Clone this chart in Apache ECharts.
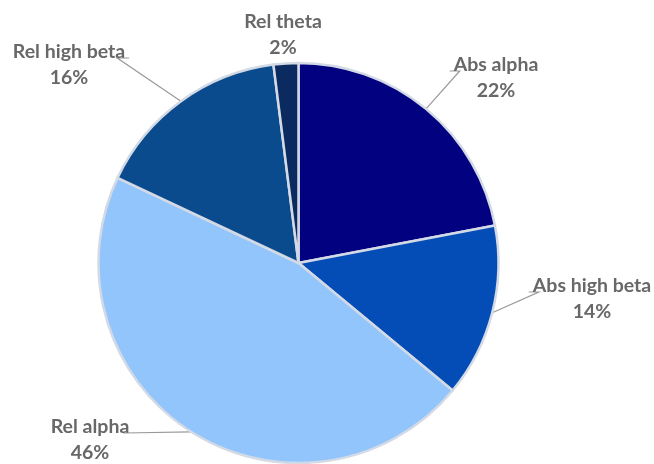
<!DOCTYPE html>
<html>
<head>
<meta charset="utf-8">
<script src="https://cdn.jsdelivr.net/npm/echarts@6/dist/echarts.min.js"></script>
<style>
  html, body { margin: 0; padding: 0; background: #fff; }
  #chart { width: 654px; height: 464px; }
</style>
</head>
<body>
<div id="chart"></div>
<script>
// Share of each band measure (percent), clockwise from 12 o'clock
const categories = ['Abs alpha', 'Abs high beta', 'Rel alpha', 'Rel high beta', 'Rel theta'];
const shares = [22, 14, 46, 16, 2];
const sliceColors = ['#020280', '#044db6', '#92c5fb', '#0a4b8e', '#0b2b60'];

// Where each two-line label block sits (text centre) and which side its leader enters
const labelSpots = [
  { x: 496, y: 78, side: 'left', run: 10 },
  { x: 592, y: 299, side: 'left', run: 10 },
  { x: 90, y: 440, side: 'right', run: 10 },
  { x: 69, y: 65, side: 'right', run: 12 },
  { x: 283, y: 35, side: 'none', run: 0 }
];

const chart = echarts.init(document.getElementById('chart'));

chart.setOption({
  animation: false,
  series: [{
    type: 'pie',
    center: [298.5, 263],
    radius: 200,
    startAngle: 90,
    clockwise: true,
    data: categories.map((name, i) => ({
      name,
      value: shares[i],
      itemStyle: { color: sliceColors[i] },
      labelLine: { show: labelSpots[i].side !== 'none' }
    })),
    itemStyle: { borderColor: '#d3dae6', borderWidth: 2.5 },
    label: {
      formatter: '{b}\n{c}%',
      color: '#686868',
      fontFamily: 'Lato',
      fontWeight: 'bold',
      fontSize: 19.5,
      lineHeight: 26,
      align: 'center',
      overflow: 'none'
    },
    labelLine: { lineStyle: { color: '#9a9a9a', width: 1.2 } },
    labelLayout: function (params) {
      const spot = labelSpots[params.dataIndex];
      const w = params.labelRect.width;
      const out = { x: spot.x, y: spot.y, align: 'center', verticalAlign: 'middle' };
      const start = params.labelLinePoints ? params.labelLinePoints[0] : null;
      if (start && spot.side !== 'none') {
        const lineY = spot.y - 7;
        const dir = spot.side === 'left' ? -1 : 1;
        const endX = spot.x + dir * (w / 2 + 4);
        const bendX = endX - dir * spot.run;
        out.labelLinePoints = [start, [bendX, lineY], [endX, lineY]];
      }
      return out;
    }
  }]
});
</script>
</body>
</html>
